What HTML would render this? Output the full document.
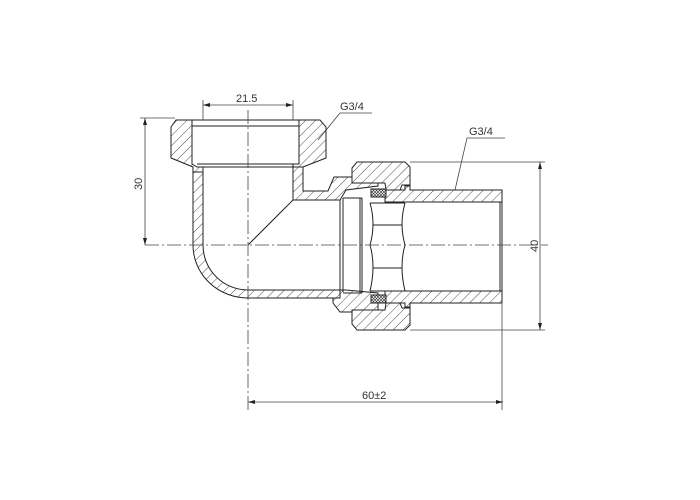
<!DOCTYPE html>
<html><head><meta charset="utf-8"><style>
html,body{margin:0;padding:0;background:#fff;}
svg{display:block;}
text{font-family:"Liberation Sans",sans-serif;font-size:11px;fill:#333;}
</style></head><body>
<svg width="700" height="500" viewBox="0 0 700 500" xmlns="http://www.w3.org/2000/svg">
<defs>
<pattern id="h" width="7" height="7" patternUnits="userSpaceOnUse" patternTransform="rotate(45)">
<rect width="7" height="7" fill="#fff"/><line x1="0" y1="0" x2="0" y2="7" stroke="#222" stroke-width="0.8"/></pattern>
<pattern id="x" width="3" height="3" patternUnits="userSpaceOnUse">
<rect width="3" height="3" fill="#fff"/><path d="M0 0L3 3M3 0L0 3" stroke="#222" stroke-width="0.6"/></pattern>
</defs>
<g stroke="#222" stroke-width="1" fill="url(#h)">
<path d="M171 127 L176 120 L192 120 L192 164 L197 167 L203 167 L203 172 L193 172 L193 167 L171 158 Z"/>
<path d="M299 120 L320 120 L326 127 L326 158 L303 167 L293 167 L293 164 L299 164 Z"/>
<path d="M193 172 L203 172 L203 245 A45 45 0 0 0 248 290 L340 290 L340 298 L248 298 A55 53 0 0 1 193 245 Z"/>
<path d="M293 167 L303 167 L303 191 L328 191 L334 177 L378 177 L378 186 L346 190 L340 200 L293 200 Z"/>
<path d="M340 290 L346 290 L378 293 L378 312 L340 312 L333 303 L333 298 L340 298 Z"/>
<path d="M352 168 L357 162 L405 162 L410 167 L410 185 L402 185 L400 190 L386 190 L385 183 L352 183 Z"/>
<path d="M352 310 L385 310 L386 303 L400 303 L402 308 L410 308 L410 325 L405 330 L357 330 L352 324 Z"/>
<path d="M385 190 L405 190 L405 186 L410 186 L410 190 L502 190 L502 202 L405 202 L385 202 Z"/>
<path d="M385 291 L502 291 L502 303 L410 303 L410 307 L405 307 L405 303 L385 303 Z"/>
<rect x="371" y="189" width="15" height="8" fill="url(#x)"/>
<rect x="371" y="295" width="15" height="8" fill="url(#x)"/>
</g>
<g stroke="#222" stroke-width="1" fill="none">
<line x1="192" y1="126" x2="299" y2="126"/>
<line x1="197" y1="164" x2="299" y2="164"/>
<line x1="203" y1="167" x2="293" y2="167"/>
<line x1="192" y1="120" x2="299" y2="120"/>
<line x1="248" y1="245" x2="293" y2="200"/>
<line x1="340" y1="200" x2="340" y2="290"/>
<line x1="343" y1="198" x2="343" y2="292"/>
<line x1="360" y1="198" x2="360" y2="293"/>
<line x1="362" y1="198" x2="362" y2="293"/>
<line x1="343" y1="198" x2="362" y2="198"/>
<line x1="343" y1="293" x2="362" y2="293"/>
<path d="M370 203 Q376 224 370 245 Q376 266 370 291"/>
<path d="M405 203 Q399 224 405 245 Q399 266 405 291"/>
<line x1="370" y1="203" x2="405" y2="203"/>
<line x1="370" y1="291" x2="405" y2="291"/>
<line x1="373" y1="225" x2="402" y2="225"/>
<line x1="373" y1="268" x2="402" y2="268"/>
<line x1="500" y1="202" x2="500" y2="291"/>
<line x1="502" y1="202" x2="502" y2="291"/>
</g>
<g stroke="#444" stroke-width="0.8" fill="none">
<line x1="248" y1="110" x2="248" y2="410" stroke-dasharray="14 3 2 3"/>
<line x1="145" y1="245" x2="548" y2="245" stroke-dasharray="14 3 2 3"/>
<line x1="203" y1="100" x2="203" y2="120"/><line x1="293" y1="100" x2="293" y2="120"/>
<line x1="203" y1="105" x2="293" y2="105"/>
<line x1="140" y1="118" x2="175" y2="118"/>
<line x1="145" y1="118" x2="145" y2="245"/>
<line x1="410" y1="162" x2="545" y2="162"/><line x1="410" y1="330" x2="545" y2="330"/>
<line x1="540" y1="162" x2="540" y2="330"/>
<line x1="502" y1="303" x2="502" y2="410"/>
<line x1="248" y1="402" x2="503" y2="402"/>
<polyline points="372,113 340,113 318,140"/>
<polyline points="505,138 467,138 455,190"/>
</g>
<g fill="#222">
<path d="M203 105 l7 -2 v4z M293 105 l-7 -2 v4z"/>
<path d="M145 118 l-2 7 h4z M145 245 l-2 -7 h4z"/>
<path d="M540 162 l-2 7 h4z M540 330 l-2 -7 h4z"/>
<path d="M248 402 l7 -2 v4z M503 402 l-7 -2 v4z"/>
</g>
<text x="236" y="102">21.5</text>
<text x="340" y="110">G3/4</text>
<text x="469" y="135">G3/4</text>
<text x="362" y="399">60±2</text>
<text transform="translate(142,190) rotate(-90)">30</text>
<text transform="translate(538,252) rotate(-90)">40</text>
</svg>
</body></html>
